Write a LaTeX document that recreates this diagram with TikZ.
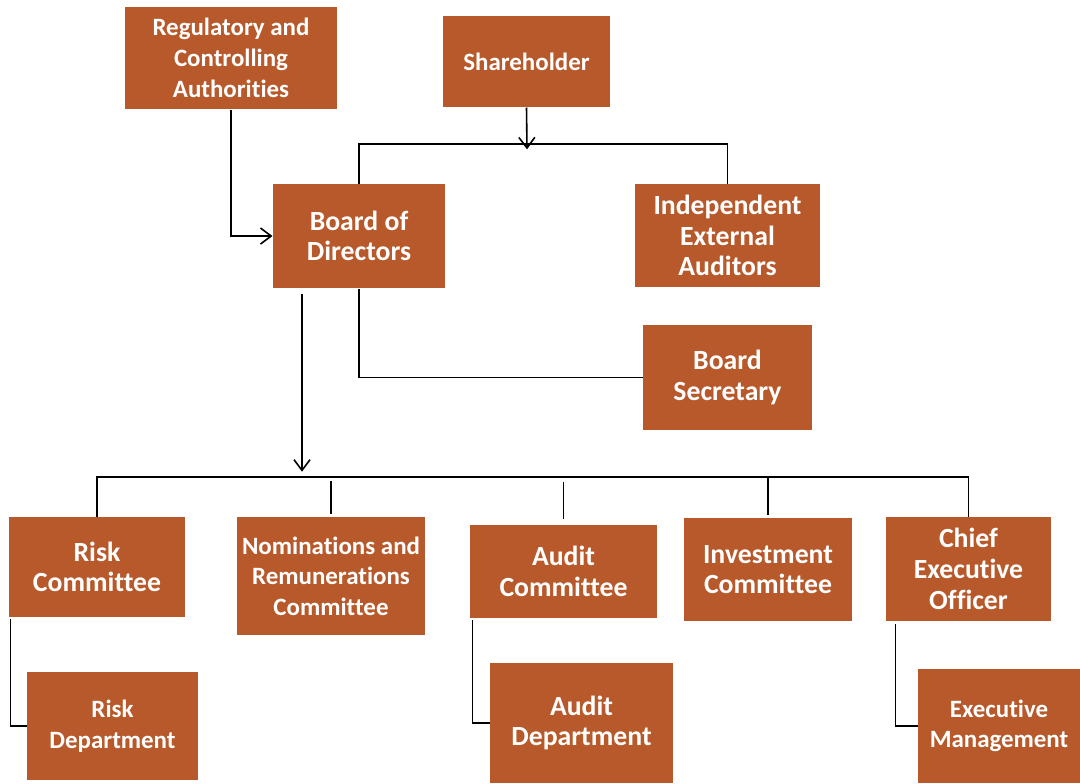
\documentclass[tikz,border=0pt]{standalone}
\usepackage{fontspec}
\setmainfont{Carlito}[Ligatures=NoCommon]
\usetikzlibrary{arrows.meta}
\definecolor{boxfill}{RGB}{183,89,42}

\tikzset{every picture/.style={line width=0.75pt}}
\tikzset{
  orgbox/.style={fill=boxfill, text=white, align=center, inner sep=0pt,
    font=\bfseries\fontsize{18.7}{23}\selectfont},
  bigtxt/.style={font=\bfseries\fontsize{20.8}{23}\selectfont},
  link/.style={draw=black, line width=1.2pt},
  arr/.style={-{Straight Barb[length=8pt,width=12pt]}}
}

\begin{document}
\begin{tikzpicture}[x=0.75pt,y=0.75pt,yscale=-1,xscale=1]
\useasboundingbox (0,0) rectangle (1080,783);

%Shape: Rectangle (top row)
\node[orgbox, minimum width=159pt, minimum height=76.5pt] (reg) at (231,58) {Regulatory and\\Controlling\\Authorities};
\node[orgbox, minimum width=125.25pt, minimum height=68.25pt] (share) at (526.5,61.5) {Shareholder};
%Shape: Rectangle (board level)
\node[orgbox, bigtxt, minimum width=129pt, minimum height=78pt] (board) at (359,236) {Board of\\Directors};
\node[orgbox, bigtxt, minimum width=138.75pt, minimum height=77.25pt] (auditors) at (727.5,235.5) {Independent\\External\\Auditors};
\node[orgbox, bigtxt, minimum width=126.75pt, minimum height=78.75pt] (secretary) at (727.5,377.5) {Board\\Secretary};
%Shape: Rectangle (committees)
\node[orgbox, bigtxt, minimum width=132pt, minimum height=75pt] (riskc) at (97,567) {Risk\\Committee};
\node[orgbox, minimum width=141pt, minimum height=88.5pt] (nomin) at (331,576) {Nominations and\\Remunerations\\Committee};
\node[orgbox, bigtxt, minimum width=140.25pt, minimum height=69.75pt] (auditc) at (563.5,571.5) {Audit\\Committee};
\node[orgbox, bigtxt, minimum width=126pt, minimum height=77.25pt] (investc) at (768,569.5) {Investment\\Committee};
\node[orgbox, bigtxt, minimum width=123.75pt, minimum height=78pt] (ceo) at (968.5,569) {Chief\\Executive\\Officer};
%Shape: Rectangle (departments)
\node[orgbox, minimum width=128.25pt, minimum height=81pt] (riskd) at (112.5,726) {Risk\\Department};
\node[orgbox, bigtxt, minimum width=137.25pt, minimum height=90pt] (auditd) at (581.5,723) {Audit\\Department};
\node[orgbox, minimum width=121.5pt, minimum height=85.5pt] (execm) at (999,726) {Executive\\Management};

\coordinate (topbar) at (527,144);
\coordinate (midbar) at (302,477);

%Straight Lines (top)
\draw[link, arr] (reg.south) |- (board.west);
\draw[link] (board.north) |- (topbar) -| (auditors.north);
\draw[link, arr] (share.south) -- ([yshift=4pt]topbar);
\draw[link] (board.south) |- (secretary.west);

%Straight Lines (committees)
\draw[link, arr] ([yshift=4pt]board.south -| midbar) -- ([yshift=-4pt]midbar);
\draw[link] (riskc.north) |- (midbar) -| (ceo.north);
\draw[link] ([yshift=-2pt]nomin.north) -- ([yshift=3pt]nomin.north |- midbar);
\draw[link] ([yshift=-4pt]auditc.north) -- ([yshift=4pt]auditc.north |- midbar);
\draw[link] ([yshift=-2pt]investc.north) -- (investc.north |- midbar);

%Straight Lines (departments)
\draw[link] ([xshift=1.5pt, yshift=1pt]riskc.south west) |- (riskd.west);
\draw[link] ([xshift=2.25pt, yshift=1pt]auditc.south west) |- (auditd.west);
\draw[link] ([xshift=7.5pt, yshift=2pt]ceo.south west) |- (execm.west);

\end{tikzpicture}
\end{document}
